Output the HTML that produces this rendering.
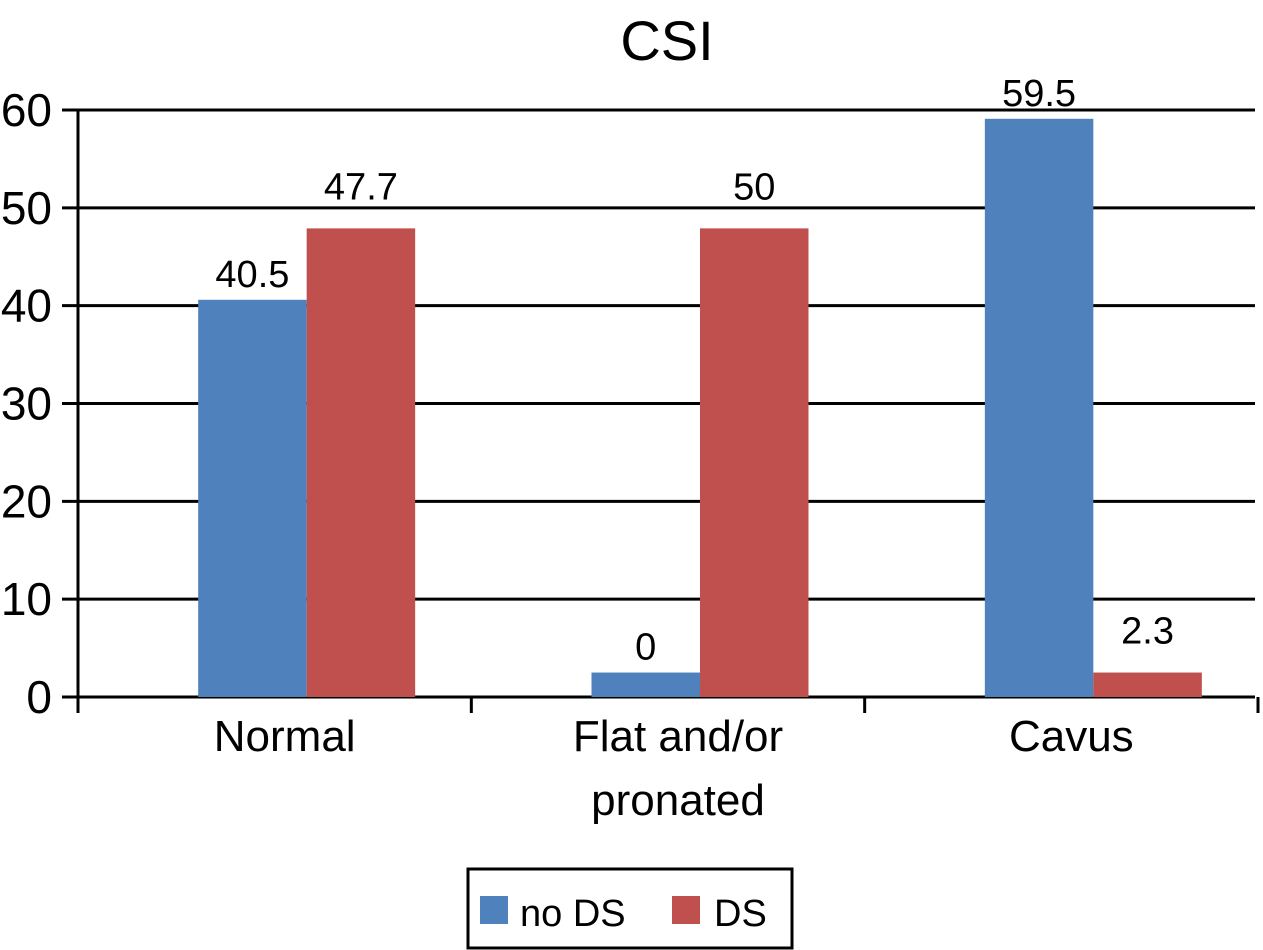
<!DOCTYPE html>
<html><head><meta charset="utf-8"><style>
html,body{margin:0;padding:0;background:#fff;}
svg{display:block;font-family:"Liberation Sans",Arial,sans-serif;}
</style></head><body>
<svg id="chart" width="1263" height="950" viewBox="0 0 1263 950">
<text x="667" y="60" font-size="56" text-anchor="middle">CSI</text>
<g id="grid"></g><g id="bars"></g><g id="labels"></g><g id="axes"></g>
<g>
<rect x="468" y="869" width="324" height="79" fill="#fff" stroke="#000" stroke-width="3"/>
<rect x="480" y="896" width="28" height="28" fill="#4f81bd"/>
<text x="520" y="926" font-size="38">no DS</text>
<rect x="672" y="896" width="28" height="28" fill="#c0504d"/>
<text x="714" y="926" font-size="38">DS</text>
</g>
</svg>
<script>
const categories = ["Normal", "Flat and/or|pronated", "Cavus"];
const noDsValues = [40.6, 2.5, 59.1];
const dsValues = [47.9, 47.9, 2.5];
const noDsLabels = ["40.5", "0", "59.5"];
const dsLabels = ["47.7", "50", "2.3"];
const yTicks = [0, 10, 20, 30, 40, 50, 60];

const NS = "http://www.w3.org/2000/svg";
const x0 = 78, x1 = 1258, yBase = 697, yTop = 110, yMax = 60;
const y = v => yBase - (v / yMax) * (yBase - yTop);
const catW = (x1 - x0) / categories.length;
const barW = 108.5, barShift = 32, labelShift = 10;
function mk(tag, attrs, parent) {
  const e = document.createElementNS(NS, tag);
  for (const k in attrs) e.setAttribute(k, attrs[k]);
  parent.appendChild(e); return e;
}
const grid = document.getElementById("grid"), bars = document.getElementById("bars"),
      labels = document.getElementById("labels"), axes = document.getElementById("axes");
yTicks.forEach(t => {
  const g = mk("line", {x1: 62, x2: 1255, y1: y(t), y2: y(t), stroke: "#000", "stroke-width": 3}, grid);
  
  
  const tx = mk("text", {x: 52, y: y(t) + 16, "font-size": 46, "text-anchor": "end"}, axes);
  tx.textContent = t;
  
  
});
const ax = mk("line", {x1: x0, x2: x0, y1: yTop, y2: 712, stroke: "#000", "stroke-width": 3}, axes);


for (let i = 0; i <= categories.length; i++) {
  const tk = mk("line", {x1: x0 + i * catW, x2: x0 + i * catW, y1: yBase, y2: 713, stroke: "#000", "stroke-width": 3}, axes);
  
  
}
categories.forEach((c, i) => {
  const cx = x0 + (i + 0.5) * catW + barShift;
  const bx = cx - barW;
  const b1 = mk("rect", {x: bx, y: y(noDsValues[i]), width: barW, height: yBase - y(noDsValues[i]), fill: "#4f81bd"}, bars);
  
  
  const b2 = mk("rect", {x: cx, y: y(dsValues[i]), width: barW, height: yBase - y(dsValues[i]), fill: "#c0504d"}, bars);
  
  
  const l1 = mk("text", {x: bx + barW / 2, y: y(noDsValues[i]) - 13, "font-size": 38, "text-anchor": "middle"}, labels);
  l1.textContent = noDsLabels[i];
  
  
  const l2 = mk("text", {x: cx + barW / 2, y: y(dsValues[i]) - 29, "font-size": 38, "text-anchor": "middle"}, labels);
  l2.textContent = dsLabels[i];
  
  
  c.split("|").forEach((line, j) => {
    const t = mk("text", {x: x0 + (i + 0.5) * catW + labelShift, y: 751 + j * 64, "font-size": 44, "text-anchor": "middle"}, labels);
    t.textContent = line;
    
    
  });
});
</script>
</body></html>
